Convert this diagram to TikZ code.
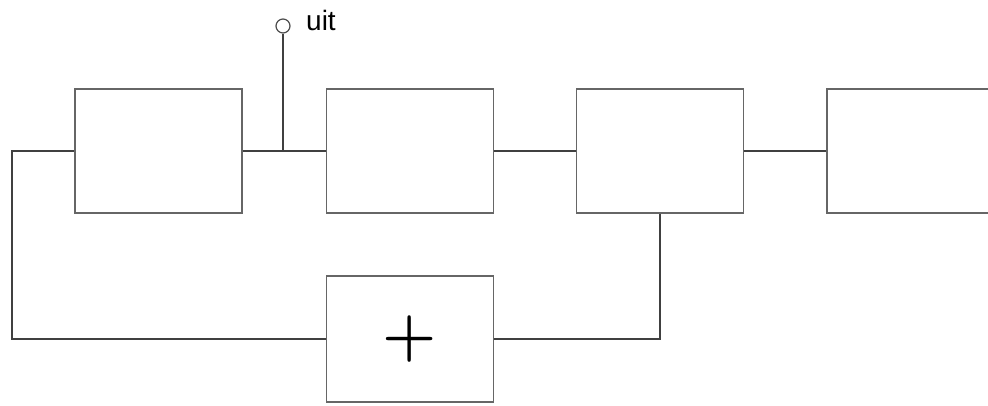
\documentclass[tikz,border=0pt]{standalone}
\usepackage{fontspec}
\setmainfont{Liberation Sans}
\usepackage{tikz}
\usetikzlibrary{shapes,arrows}

\begin{document}
\begin{tikzpicture}[x=1pt,y=-1pt,
    block_box/.style ={rectangle, draw=black!60, line width=1.8pt, fill=white,
      minimum width=167pt, minimum height=124pt, inner sep=0pt},
    sum_box/.style ={block_box, minimum height=126pt,
      font=\fontspec{Latin Modern Roman}\bfseries\fontsize{62}{62}\selectfont},
    terminal/.style ={circle, draw=black!70, line width=1.2pt, fill=white,
      minimum size=14pt, inner sep=0pt},
    line/.style ={draw=black!75, line width=1.3pt}]
    \useasboundingbox (0,0) rectangle (988,405);
    \clip (0,0) rectangle (988,405);
    % forward chain of blocks
    \node[block_box] (blk1) at (158.5,151) {};
    \node[block_box] (blk2) at (410,151) {};
    \node[block_box] (blk3) at (660,151) {};
    \node[block_box] (blk4) at (910.5,151) {};
    % feedback adder
    \node[sum_box] (sum) at (410,339) {\raisebox{-0.6pt}{+}};
    % output terminal
    \coordinate (tap) at (283,151);
    \node[terminal] (out) at (283,26) {};
    \node[anchor=base west, inner sep=0pt, font=\fontsize{28}{28}\selectfont]
      (uitlabel) at (306,30) {uit};
    \coordinate (lft) at (12,0);
    % connections
    \path[line] (blk1.east) -- (blk2.west);
    \path[line] (tap) -- (out.south);
    \path[line] (blk2.east) -- (blk3.west);
    \path[line] (blk3.east) -- (blk4.west);
    \path[line] (blk3.south) |- (sum.east);
    \path[line] (sum.west) -- (sum.west -| lft) |- (blk1.west);
\end{tikzpicture}
\end{document}
